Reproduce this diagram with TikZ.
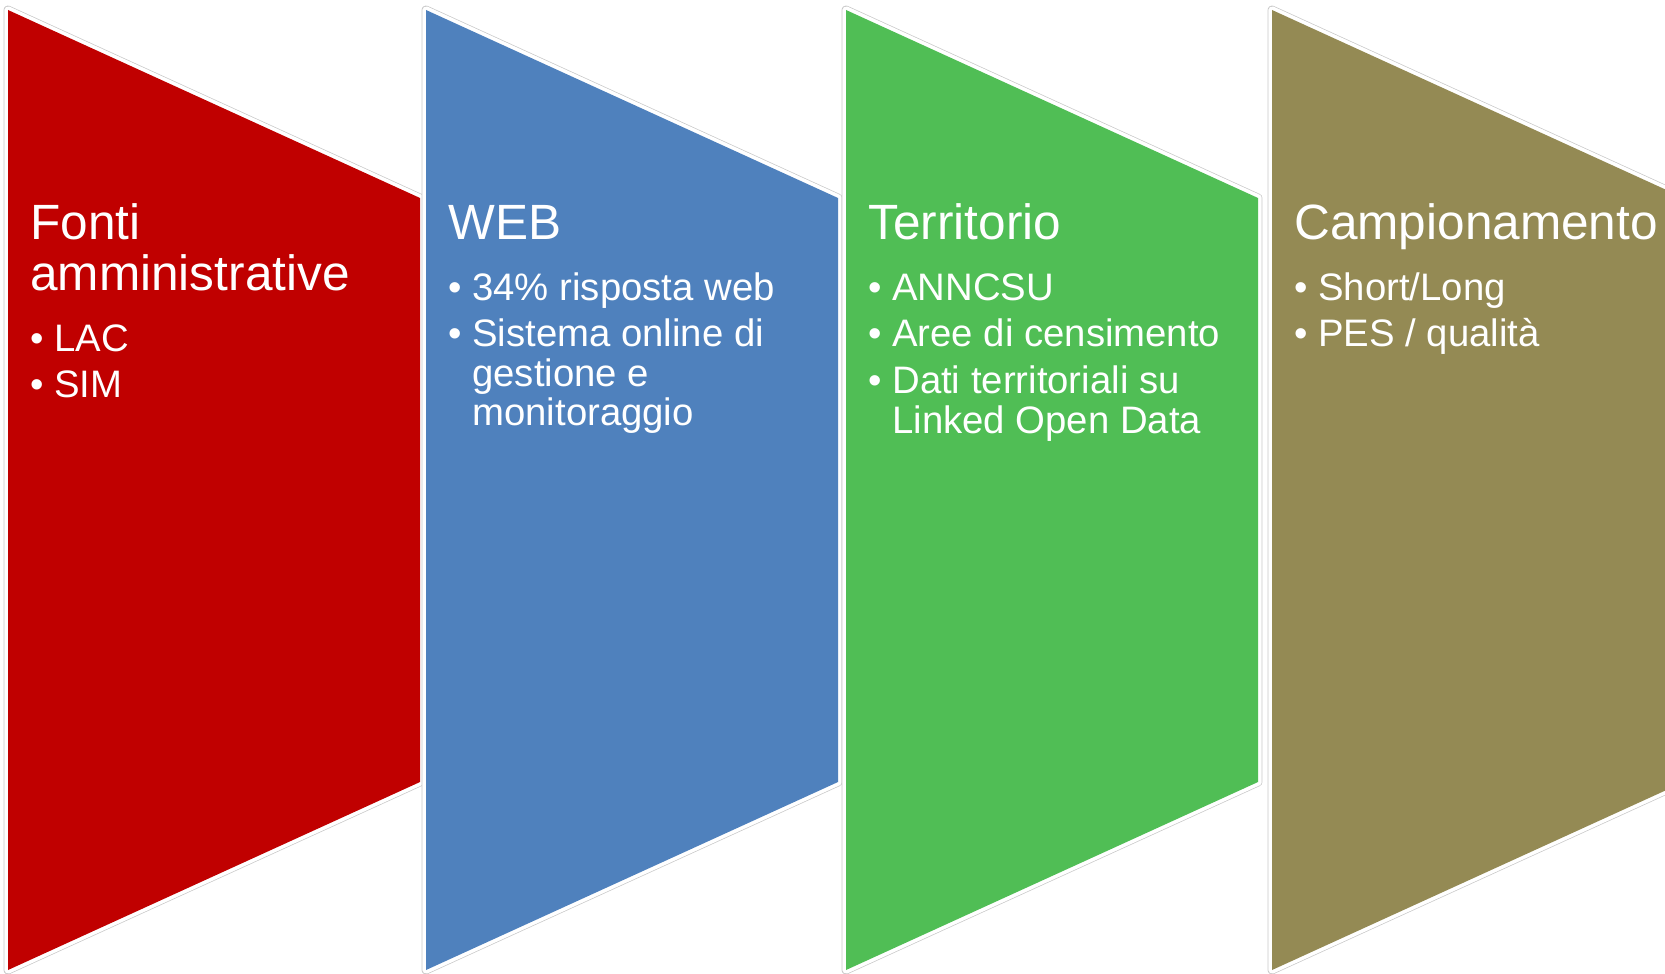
\documentclass[tikz,border=0pt]{standalone}
\usepackage{fontspec}
\setmainfont{Liberation Sans}

\definecolor{stagered}{HTML}{C00000}
\definecolor{stageblue}{HTML}{4F81BD}
\definecolor{stagegreen}{HTML}{50BE55}
\definecolor{stageolive}{HTML}{948A54}
\definecolor{haloline}{HTML}{C8C8C8}

\tikzset{
	stage halo/.style={draw=haloline, line width=5pt, line join=round},
	stage edge/.style={draw=white, line width=4.2pt, line join=round},
	stage title/.style={anchor=base west, inner sep=0pt, text=white, align=left,
		font=\fontsize{28.2}{28.7}\selectfont},
	stage item/.style={anchor=base west, inner sep=0pt, text=white, align=left,
		font=\fontsize{21.8}{21.8}\selectfont}
}

% one chevron: left edge and fill colour
\newcommand{\stageshape}[2]{%
	\draw[stage halo] (#1,10) -- ++(412,188) -- ++(0,584) -- ++(-412,188) -- cycle;
	\draw[stage edge] (#1,10) -- ++(412,188) -- ++(0,584) -- ++(-412,188) -- cycle;
	\fill[#2] (#1,10) -- ++(412,188) -- ++(0,584) -- ++(-412,188) -- cycle;
}
\newcommand{\dotmark}{\llap{\makebox[0.48cm][l]{•}}}

\begin{document}
\begin{tikzpicture}[x=0.02cm, y=-0.02cm]
	\useasboundingbox (0,0) rectangle (1665,973);
	\clip (0,0) rectangle (1665,973);
	
	% Draw the chevrons
	\stageshape{8}{stagered}
	\stageshape{426}{stageblue}
	\stageshape{846}{stagegreen}
	\stageshape{1272}{stageolive}
	
	% Fonti amministrative
	\node [stage title] (fontiT) at (30,239.5) {Fonti};
	\node [stage title] (fontiT2) at (30,290) {amministrative};
	\node [stage item] (fontiA) at (54,351) {\dotmark LAC};
	\node [stage item] (fontiB) at (54,397) {\dotmark SIM};
	
	% WEB
	\node [stage title] (webT) at (448,239.5) {WEB};
	\node [stage item] (webA) at (472,300) {\dotmark 34\% risposta web};
	\node [stage item] (webB) at (472,346.5) {\dotmark Sistema online di};
	\node [stage item] (webB2) at (472,386) {gestione e};
	\node [stage item] (webB3) at (472,425.5) {monitoraggio};
	
	% Territorio
	\node [stage title] (terrT) at (868,239.5) {Territorio};
	\node [stage item] (terrA) at (892,300) {\dotmark ANNCSU};
	\node [stage item] (terrB) at (892,346.5) {\dotmark Aree di censimento};
	\node [stage item] (terrC) at (892,393) {\dotmark Dati territoriali su};
	\node [stage item] (terrC2) at (892,433) {Linked Open Data};
	
	% Campionamento
	\node [stage title] (campT) at (1294,239.5) {Campionamento};
	\node [stage item] (campA) at (1318,300) {\dotmark Short/Long};
	\node [stage item] (campB) at (1318,346.5) {\dotmark PES / qualità};
	
\end{tikzpicture}
\end{document}
